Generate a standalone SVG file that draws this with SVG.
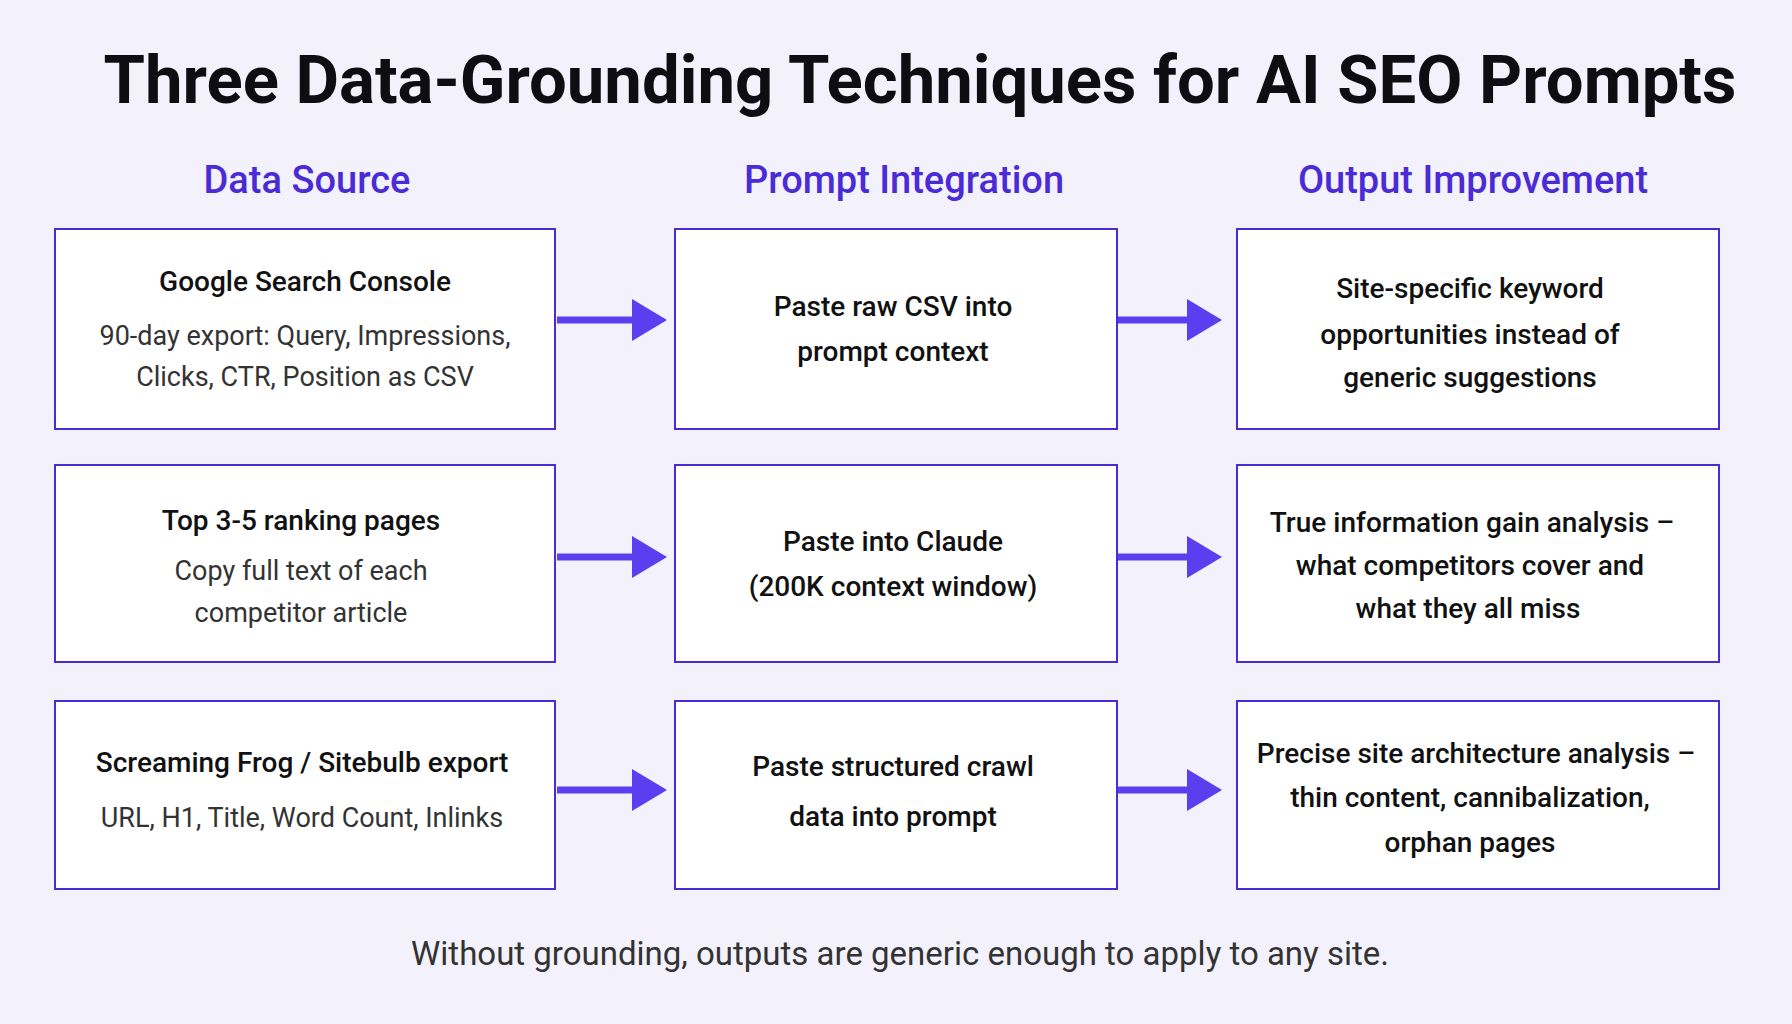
<svg xmlns="http://www.w3.org/2000/svg" width="1792" height="1024" viewBox="0 0 1792 1024">
<style>
text{font-family:Roboto,"Liberation Sans",sans-serif;text-anchor:middle;dominant-baseline:central}
.t{font-size:67px;font-weight:700;fill:#0d0d12}
.h{font-size:38px;font-weight:500;fill:#4b2bd6}
.box{fill:#fff;stroke:#4b2bd6;stroke-width:2}
.b{font-size:28px;font-weight:500;fill:#111}
.s{font-size:27px;fill:#333}
.f{font-size:33px;fill:#333}
.ar{stroke:#5b3ef0;stroke-width:7;fill:none}
</style>
<defs><marker id="ah" markerWidth="5" markerHeight="6" refX="4" refY="3" orient="auto" markerUnits="strokeWidth"><path d="M0,0L5,3L0,6z" fill="#5b3ef0"/></marker></defs>
<rect width="1792" height="1024" fill="#f3f2fc"/>
<text class="t" x="920" y="80">Three Data-Grounding Techniques for AI SEO Prompts</text>
<text class="h" x="307" y="180">Data Source</text>
<text class="h" x="904" y="180">Prompt Integration</text>
<text class="h" x="1473" y="180">Output Improvement</text>
<g id="n1"><rect class="box" x="55" y="229" width="500" height="200"/><text class="b" x="305" y="281">Google Search Console</text><text class="s" x="305" y="336">90-day export: Query, Impressions,</text><text class="s" x="305" y="377">Clicks, CTR, Position as CSV</text></g>
<g id="n2"><rect class="box" x="675" y="229" width="442" height="200"/><text class="b" x="893" y="306">Paste raw CSV into</text><text class="b" x="893" y="351">prompt context</text></g>
<g id="n3"><rect class="box" x="1237" y="229" width="482" height="200"/><text class="b" x="1470" y="288">Site-specific keyword</text><text class="b" x="1470" y="334">opportunities instead of</text><text class="b" x="1470" y="377">generic suggestions</text></g>
<g id="n4"><rect class="box" x="55" y="465" width="500" height="197"/><text class="b" x="301" y="520">Top 3-5 ranking pages</text><text class="s" x="301" y="571">Copy full text of each</text><text class="s" x="301" y="613">competitor article</text></g>
<g id="n5"><rect class="box" x="675" y="465" width="442" height="197"/><text class="b" x="893" y="541">Paste into Claude</text><text class="b" x="893" y="586">(200K context window)</text></g>
<g id="n6"><rect class="box" x="1237" y="465" width="482" height="197"/><text class="b" x="1472" y="522">True information gain analysis –</text><text class="b" x="1470" y="565">what competitors cover and</text><text class="b" x="1468" y="608">what they all miss</text></g>
<g id="n7"><rect class="box" x="55" y="701" width="500" height="188"/><text class="b" x="302" y="762">Screaming Frog / Sitebulb export</text><text class="s" x="302" y="818">URL, H1, Title, Word Count, Inlinks</text></g>
<g id="n8"><rect class="box" x="675" y="701" width="442" height="188"/><text class="b" x="893" y="766">Paste structured crawl</text><text class="b" x="893" y="816">data into prompt</text></g>
<g id="n9"><rect class="box" x="1237" y="701" width="482" height="188"/><text class="b" x="1476" y="753">Precise site architecture analysis –</text><text class="b" x="1470" y="797">thin content, cannibalization,</text><text class="b" x="1470" y="842">orphan pages</text></g>
<g id="connectors">
<path class="ar" d="M557 320H660" marker-end="url(#ah)"/>
<path class="ar" d="M1118 320H1215" marker-end="url(#ah)"/>
<path class="ar" d="M557 557H660" marker-end="url(#ah)"/>
<path class="ar" d="M1118 557H1215" marker-end="url(#ah)"/>
<path class="ar" d="M557 790H660" marker-end="url(#ah)"/>
<path class="ar" d="M1118 790H1215" marker-end="url(#ah)"/>
</g>
<text class="f" x="900" y="953">Without grounding, outputs are generic enough to apply to any site.</text>
</svg>
